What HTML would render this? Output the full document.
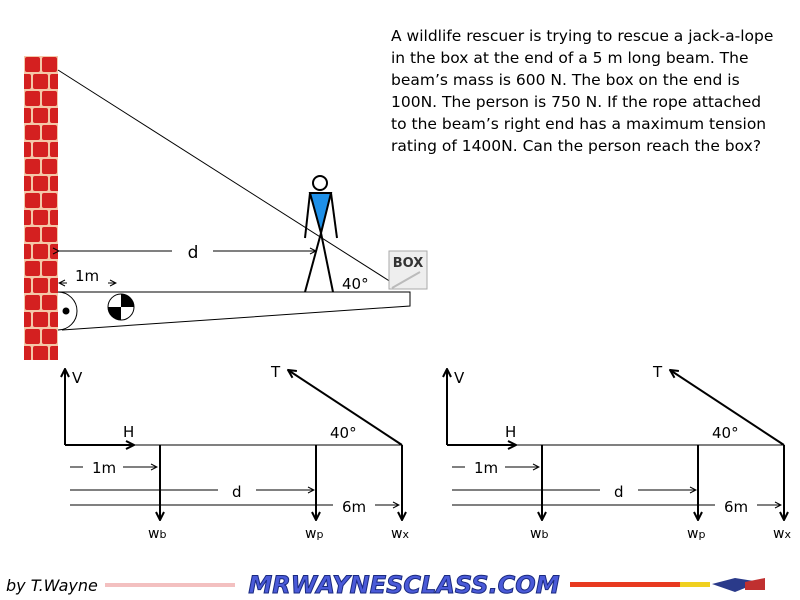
<!DOCTYPE html>
<html><head><style>
body{margin:0;background:#fff;width:800px;height:600px;overflow:hidden}
svg{display:block}
text{font-family:"DejaVu Sans","Liberation Sans",sans-serif}
</style></head><body>
<svg width="800" height="600" viewBox="0 0 800 600" xmlns="http://www.w3.org/2000/svg">
<defs>
<pattern id="brick" x="24" y="56" width="34" height="34" patternUnits="userSpaceOnUse">
<rect width="34" height="34" fill="#f4c7a8"/>
<rect x="1" y="1" width="15" height="15" rx="2" fill="#d42020"/>
<rect x="18" y="1" width="15" height="15" rx="2" fill="#d42020"/>
<rect x="-8" y="18" width="15" height="15" rx="2" fill="#d42020"/>
<rect x="9" y="18" width="15" height="15" rx="2" fill="#d42020"/>
<rect x="26" y="18" width="15" height="15" rx="2" fill="#d42020"/>
</pattern>
<marker id="ah" markerWidth="10" markerHeight="10" refX="9" refY="5" orient="auto" markerUnits="userSpaceOnUse"><path d="M1,1 L9,5 L1,9" fill="none" stroke="#000" stroke-width="2"/></marker>
<marker id="sa" markerWidth="8" markerHeight="8" refX="7" refY="4" orient="auto" markerUnits="userSpaceOnUse"><path d="M1,1 L7,4 L1,7" fill="none" stroke="#000" stroke-width="1"/></marker>
</defs>
<text x="391" y="41" font-size="15.5" fill="#000">
<tspan x="391" y="41">A wildlife rescuer is trying to rescue a jack-a-lope</tspan>
<tspan x="391" y="63">in the box at the end of a 5 m long beam. The</tspan>
<tspan x="391" y="85">beam’s mass is 600 N. The box on the end is</tspan>
<tspan x="391" y="107">100N. The person is 750 N. If the rope attached</tspan>
<tspan x="391" y="129">to the beam’s right end has a maximum tension</tspan>
<tspan x="391" y="151">rating of 1400N. Can the person reach the box?</tspan>
</text>
<rect x="24" y="56" width="34" height="304" fill="url(#brick)"/>
<line x1="58" y1="70" x2="391" y2="282" stroke="#000" stroke-width="1"/>
<path d="M58,292 L410,292 L410,306 L62,330" fill="none" stroke="#000" stroke-width="1"/>
<path d="M58,292 A19,19 0 0 1 58,330" fill="#fff" stroke="#000"/>
<circle cx="66" cy="311" r="3.5" fill="#000"/>
<circle cx="121" cy="307" r="13" fill="#fff" stroke="#000"/>
<path d="M121,307 L121,294 A13,13 0 0 1 134,307 Z" fill="#000"/>
<path d="M121,307 L108,307 A13,13 0 0 0 121,320 Z" fill="#000"/>
<circle cx="320" cy="183" r="7" fill="#fff" stroke="#000" stroke-width="2"/>
<path d="M310,193 L331,193 L321,233 Z" fill="#1e90e8" stroke="#000" stroke-width="2"/>
<line x1="310" y1="193" x2="305" y2="238" stroke="#000" stroke-width="2"/>
<line x1="331" y1="193" x2="337" y2="238" stroke="#000" stroke-width="2"/>
<line x1="321" y1="233" x2="305" y2="292" stroke="#000" stroke-width="2"/>
<line x1="321" y1="233" x2="333" y2="292" stroke="#000" stroke-width="2"/>
<rect x="389" y="251" width="38" height="38" fill="#eee" stroke="#aaa"/>
<text x="408" y="267" font-size="13" font-weight="bold" font-family="Liberation Serif" text-anchor="middle" fill="#333">BOX</text>
<line x1="392" y1="288" x2="420" y2="272" stroke="#bbb" stroke-width="2"/>
<line x1="59" y1="251" x2="172" y2="251" stroke="#000" marker-start="url(#sa)"/>
<line x1="213" y1="251" x2="316" y2="251" stroke="#000" marker-end="url(#sa)"/>
<text x="193" y="258" font-size="17" text-anchor="middle">d</text>
<text x="75" y="281" font-size="15">1m</text>
<line x1="67" y1="283" x2="59" y2="283" stroke="#000" marker-end="url(#sa)"/>
<line x1="108" y1="283" x2="116" y2="283" stroke="#000" marker-end="url(#sa)"/>
<text x="342" y="289" font-size="15">40°</text>
<g id="fbd">
<line x1="65" y1="445" x2="65" y2="369" stroke="#000" stroke-width="2" marker-end="url(#ah)"/>
<text x="72" y="383" font-size="15">V</text>
<line x1="65" y1="445" x2="134" y2="445" stroke="#000" stroke-width="2" marker-end="url(#ah)"/>
<text x="123" y="437" font-size="15">H</text>
<line x1="134" y1="445" x2="402" y2="445" stroke="#000" stroke-width="1"/>
<line x1="402" y1="445" x2="288" y2="370" stroke="#000" stroke-width="2" marker-end="url(#ah)"/>
<text x="271" y="377" font-size="15">T</text>
<text x="330" y="438" font-size="15">40°</text>
<line x1="160" y1="445" x2="160" y2="520" stroke="#000" stroke-width="2" marker-end="url(#ah)"/>
<line x1="316" y1="445" x2="316" y2="520" stroke="#000" stroke-width="2" marker-end="url(#ah)"/>
<line x1="402" y1="445" x2="402" y2="520" stroke="#000" stroke-width="2" marker-end="url(#ah)"/>
<line x1="70" y1="467" x2="83" y2="467" stroke="#000"/>
<text x="92" y="473" font-size="15">1m</text>
<line x1="123" y1="467" x2="157" y2="467" stroke="#000" marker-end="url(#sa)"/>
<line x1="70" y1="490" x2="218" y2="490" stroke="#000"/>
<text x="232" y="497" font-size="15">d</text>
<line x1="256" y1="490" x2="314" y2="490" stroke="#000" marker-end="url(#sa)"/>
<line x1="70" y1="505" x2="333" y2="505" stroke="#000"/>
<text x="342" y="512" font-size="15">6m</text>
<line x1="375" y1="505" x2="399" y2="505" stroke="#000" marker-end="url(#sa)"/>
<text x="148" y="538" font-size="14">w<tspan font-size="11">b</tspan></text>
<text x="305" y="538" font-size="14">w<tspan font-size="11">p</tspan></text>
<text x="391" y="538" font-size="14">w<tspan font-size="11">x</tspan></text>
</g>
<use href="#fbd" x="382"/>
<text x="6" y="591" font-size="16" font-style="italic" font-family="Liberation Sans">by T.Wayne</text>
<rect x="105" y="583" width="130" height="4" fill="#f3c0c0"/>
<rect x="570" y="582" width="140" height="5" fill="#e83a20"/>
<rect x="680" y="582" width="30" height="5" fill="#f0d020"/>
<text x="404" y="593" font-size="24" font-weight="bold" font-style="italic" text-anchor="middle" fill="#4a5ad8" stroke="#1a2a80" stroke-width="1" font-family="Liberation Sans">MRWAYNESCLASS.COM</text>
<path d="M712,584 L735,578 L760,582 L735,592 Z" fill="#2a3a8a"/>
<path d="M745,582 L765,578 L765,590 L745,590 Z" fill="#c03030"/>
</svg>
</body></html>
